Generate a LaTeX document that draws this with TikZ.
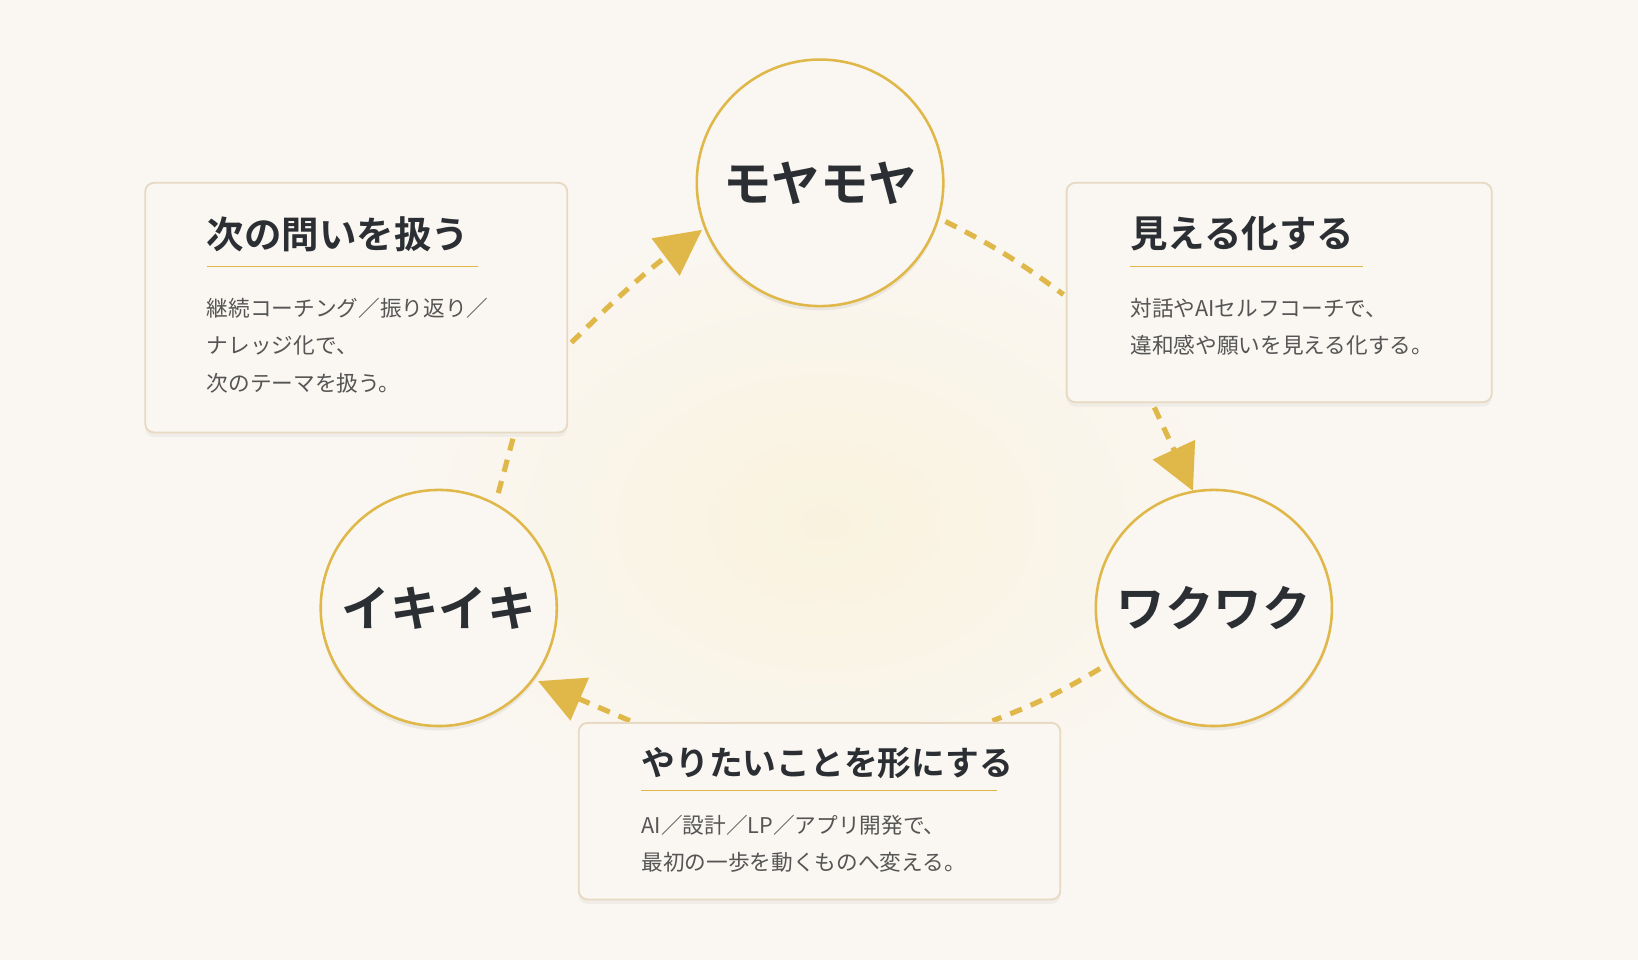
\documentclass[tikz,border=0pt]{standalone}
\usepackage{fontspec}
\setmainfont{Noto Sans CJK JP}
\newfontfamily\jpb{Noto Sans CJK JP Bold}
\usetikzlibrary{arrows.meta,shadows}
\definecolor{bg}{HTML}{FAF7F2}
\definecolor{gold}{HTML}{E0B84A}
\definecolor{bord}{HTML}{E8D9C3}
\definecolor{ink}{HTML}{2B2F33}
\definecolor{body}{HTML}{555555}
\begin{document}
\begin{tikzpicture}[x=0.05cm,y=-0.05cm,
  circ/.style={circle,draw=gold,line width=3.5pt,fill=bg,font=\jpb\fontsize{66}{70}\selectfont,text=ink,drop shadow={opacity=0.12,shadow xshift=0pt,shadow yshift=-6pt}},
  box/.style={draw=bord,line width=2.5pt,fill=bg,rounded corners=12pt,drop shadow={opacity=0.08,shadow xshift=0pt,shadow yshift=-6pt}},
  head/.style={anchor=west,font=\jpb\fontsize{51}{55}\selectfont,text=ink,inner sep=0pt},
  txt/.style={anchor=north west,font=\fontsize{29.5}{51}\selectfont,text=body,align=left,inner sep=0pt},
  ul/.style={gold,line width=1.8pt},
  dsh/.style={gold,line width=7pt,dash pattern=on 17pt off 13pt},
  arr/.style={dsh,-{Triangle[length=62pt,width=62pt]}}]
\useasboundingbox (0,0) rectangle (1568,919);
\fill[bg] (0,0) rectangle (1568,919);
\shade[inner color=gold!18,outer color=bg] (790,500) ellipse (420 and 300);
% arrows
\coordinate (a1) at (905,212); \coordinate (a2) at (1018,282);
\coordinate (a3) at (1105,390); \coordinate (a4) at (1142,470);
\coordinate (b1) at (1053,640); \coordinate (b2) at (950,690);
\coordinate (c1) at (603,690); \coordinate (c2) at (515,652);
\coordinate (d1) at (477,472); \coordinate (d2) at (491,420);
\coordinate (e1) at (547,328); \coordinate (e2) at (672,220);
\draw[dsh] (a1) to[bend left=5] (a2);
\draw[arr] (a3) -- (a4);
\draw[dsh] (b1) to[bend left=5] (b2);
\draw[arr] (c1) -- (c2);
\draw[dsh] (d1) -- (d2);
\draw[arr] (e1) to[bend left=4] (e2);
% circles
\node[circ,minimum size=236*0.05cm] (moya) at (785,175) {モヤモヤ};
\node[circ,minimum size=226*0.05cm] (waku) at (1162,582) {ワクワク};
\node[circ,minimum size=226*0.05cm] (iki) at (420,582) {イキイキ};
% boxes
\draw[box] (139,175) rectangle (543,414);
\draw[box] (1021,175) rectangle (1428,385);
\draw[box] (554,692) rectangle (1015,861);
\node[head] (h1) at (198,224) {次の問いを扱う};
\draw[ul] (198,255) -- (458,255);
\node[txt] (t1) at (198,285) {継続コーチング／振り返り／\\ナレッジ化で、\\次のテーマを扱う。};
\node[head] (h2) at (1082,224) {見える化する};
\draw[ul] (1082,255) -- (1305,255);
\node[txt] (t2) at (1082,285) {対話やAIセルフコーチで、\\違和感や願いを見える化する。};
\node[head,font=\jpb\fontsize{46}{50}\selectfont] (h3) at (614,730) {やりたいことを形にする};
\draw[ul] (614,757) -- (954,757);
\node[txt] (t3) at (614,780) {AI／設計／LP／アプリ開発で、\\最初の一歩を動くものへ変える。};
\end{tikzpicture}
\end{document}
